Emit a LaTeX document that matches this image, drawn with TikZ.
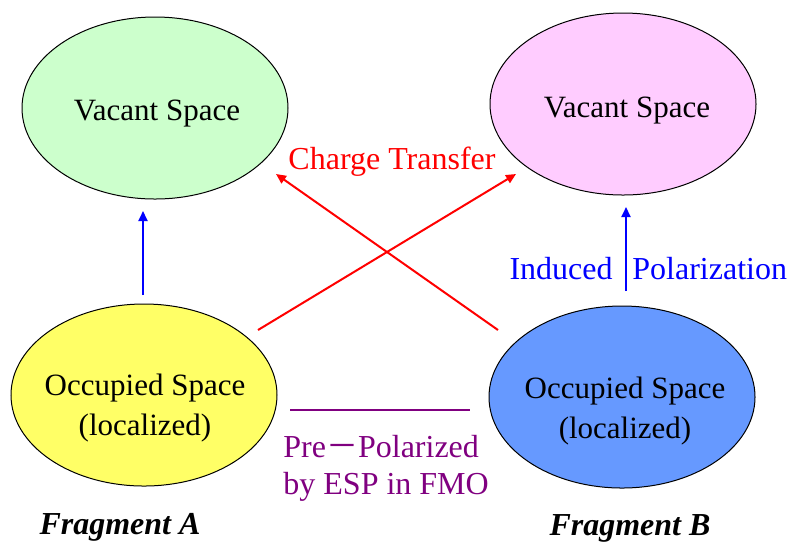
\documentclass[tikz,border=0pt]{standalone}
\usepackage{fontspec}
\setmainfont{Liberation Serif}[Extension=.ttf, UprightFont=LiberationSerif-Regular, BoldFont=LiberationSerif-Bold, ItalicFont=LiberationSerif-Italic, BoldItalicFont=LiberationSerif-BoldItalic]
\newfontfamily\cjkfont{Noto Sans CJK JP}
\usetikzlibrary{shapes.geometric,arrows.meta}
\definecolor{vgreen}{HTML}{CCFFCC}
\definecolor{vpink}{HTML}{FFCCFF}
\definecolor{oyellow}{HTML}{FFFF66}
\definecolor{oblue}{HTML}{6699FF}
\definecolor{cpurple}{HTML}{800080}
\tikzset{
  space/.style={ellipse, draw=black, line width=0.5pt, inner sep=0pt,
    minimum width=133pt, minimum height=91pt},
  spacetext/.style={inner sep=0pt, align=center,
    font=\fontsize{15.5}{20}\selectfont},
  lbl/.style={inner sep=0pt, font=\fontsize{16}{18.5}\selectfont},
  frag/.style={inner sep=0pt, font=\fontsize{16}{19}\selectfont\bfseries\itshape},
  conn/.style={line width=1pt, -{Triangle[length=5pt,width=4.5pt]}},
}
\begin{document}
\begin{tikzpicture}[x=0.5pt,y=-0.5pt]
\path[use as bounding box] (0,0) rectangle (790,543);
\node[space, fill=vgreen] (vA) at (155,108) {};
\node[space, fill=vpink] (vB) at (623,104) {};
\node[space, fill=oyellow] (oA) at (144,395) {};
\node[space, fill=oblue] (oB) at (622,397) {};
\node[spacetext] (tvA) at (157,114) {Vacant Space};
\node[spacetext] (tvB) at (627,111) {Vacant Space};
\node[spacetext] (toA) at (145,408) {Occupied Space\\(localized)};
\node[spacetext] (toB) at (625,411) {Occupied Space\\(localized)};

\coordinate (a1) at (143,295);
\coordinate (a2) at (143,211);
\coordinate (b1) at (626,291);
\coordinate (b2) at (626,207);
\coordinate (r1s) at (258,330);
\coordinate (r1e) at (516,174);
\coordinate (r2s) at (498,330);
\coordinate (r2e) at (276,174);
\coordinate (p1) at (290,410);
\coordinate (p2) at (470,410);

\draw[conn, blue] (a1) -- (a2);
\draw[conn, blue] (b1) -- (b2);
\draw[conn, red] (r1s) -- (r1e);
\draw[conn, red] (r2s) -- (r2e);
\draw[cpurple, line width=0.8pt] (p1) -- (p2);

\node[lbl, text=red] (ct) at (392,162) {Charge Transfer};
\node[lbl, text=blue, anchor=east] (ind) at (613,269) {Induced};
\node[lbl, text=blue, anchor=west] (pol) at (632,269) {Polarization};
\node[lbl, text=cpurple, anchor=west, align=left] (pp) at (283,468)
  {Pre{\cjkfont－}Polarized\\by ESP in FMO};
\node[frag] (fA) at (120,527) {Fragment A};
\node[frag] (fB) at (630,528) {Fragment B};
\end{tikzpicture}
\end{document}
